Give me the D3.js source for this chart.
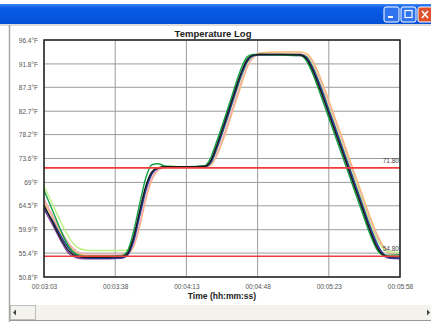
<!DOCTYPE html>
<html>
<head>
<meta charset="utf-8">
<script src="https://cdn.jsdelivr.net/npm/d3@7"></script>
<style>
  html, body { margin: 0; padding: 0; background: #fff; }
  svg { display: block; font-family: "Liberation Sans", Arial, sans-serif; }
</style>
</head>
<body>
<svg id="chart" width="431" height="322"></svg>
<script>
// seconds after 00:03:03 at which the probes were sampled
const sampleSecs = [0, 4, 8, 12, 16, 20, 26, 38, 41, 44, 47, 50, 53, 56, 60, 70, 79, 82, 85, 89,
  93, 97, 100, 103, 106, 116, 126, 129, 132, 136, 140, 144, 148, 152, 156, 160, 164, 167, 170, 175];

// probe readings (°F), one array per probe
const probeOrange = [65.2, 62.4, 59.5, 57.0, 55.5, 55.0, 54.9, 54.9, 55.2, 56.6, 60.4, 65.6, 69.4, 71.3, 71.9, 72.0, 72.0, 72.3, 74.2, 78.2,
  83.0, 87.8, 91.2, 93.2, 93.9, 94.1, 94.1, 93.8, 92.5, 89.0, 84.8, 80.4, 76.0, 71.5, 67.1, 62.7, 58.8, 56.6, 55.4, 55.0];
const probePink = [65.8, 62.8, 59.9, 57.4, 55.8, 55.3, 55.2, 55.2, 55.4, 56.9, 61.0, 66.2, 69.8, 71.4, 71.9, 72.0, 72.0, 72.4, 74.6, 78.8,
  83.6, 88.4, 91.5, 93.1, 93.6, 93.7, 93.7, 93.4, 92.0, 88.4, 84.1, 79.7, 75.3, 70.8, 66.4, 62.0, 58.3, 56.3, 55.4, 55.1];
const probeLime = [68.3, 65.0, 61.6, 58.6, 56.6, 56.0, 55.9, 55.9, 56.0, 58.0, 62.6, 67.6, 70.9, 71.9, 72.1, 72.0, 72.0, 72.6, 75.3, 79.8,
  84.6, 89.2, 92.0, 93.3, 93.6, 93.6, 93.6, 93.3, 91.6, 87.8, 83.5, 79.1, 74.7, 70.3, 65.9, 61.5, 57.8, 56.2, 55.6, 55.5];
const probePurple = [63.8, 61.0, 58.0, 55.4, 54.5, 54.3, 54.3, 54.4, 55.0, 58.0, 63.0, 67.9, 70.8, 71.7, 72.0, 72.0, 72.0, 73.0, 75.9, 80.5,
  85.3, 89.9, 92.5, 93.4, 93.5, 93.5, 93.4, 92.9, 90.9, 87.0, 82.6, 78.2, 73.8, 69.3, 64.9, 60.4, 56.6, 54.9, 54.4, 54.3];
const probeNavy = [64.0, 61.8, 58.9, 56.4, 55.0, 54.5, 54.4, 54.5, 55.0, 57.6, 62.5, 67.4, 70.6, 71.7, 72.0, 72.0, 72.0, 72.8, 75.6, 80.1,
  84.9, 89.6, 92.3, 93.4, 93.6, 93.6, 93.6, 93.1, 91.2, 87.4, 83.0, 78.6, 74.2, 69.7, 65.3, 60.8, 57.0, 55.2, 54.5, 54.4];
const probeGreen = [67.5, 63.8, 60.0, 56.8, 55.2, 54.8, 54.8, 54.9, 55.8, 59.5, 64.8, 69.8, 72.4, 72.6, 72.1, 72.0, 72.2, 73.8, 77.0, 81.6,
  86.4, 91.0, 93.2, 93.6, 93.6, 93.5, 93.4, 92.4, 90.0, 85.8, 81.4, 77.0, 72.6, 68.1, 63.7, 59.3, 55.9, 55.0, 55.0, 55.1];
const probeBlack = [64.6, 61.5, 58.4, 55.9, 54.8, 54.6, 54.6, 54.7, 55.3, 58.4, 63.4, 68.2, 71.0, 71.8, 72.0, 72.0, 72.1, 73.2, 76.2, 80.8,
  85.6, 90.2, 92.7, 93.5, 93.6, 93.6, 93.5, 92.8, 90.6, 86.6, 82.2, 77.8, 73.4, 68.9, 64.5, 60.0, 56.3, 55.0, 54.7, 54.7];

const probes = [
  { color: '#f6bb72', values: probeOrange },
  { color: '#f5a9bb', values: probePink },
  { color: '#bdf27f', values: probeLime },
  { color: '#7b3d9e', values: probePurple },
  { color: '#213f9f', values: probeNavy },
  { color: '#12a445', values: probeGreen },
  { color: '#1b1b1b', values: probeBlack }
];

// alarm limits
const limitValues = [71.8, 54.8];
const limitLabels = ['71.80', '54.80'];

// axis ticks
const tempTicks = [50.8, 55.4, 59.9, 64.5, 69, 73.6, 78.2, 82.7, 87.3, 91.8, 96.4];
const timeTickSecs = [0, 35, 70, 105, 140, 175];
const timeTickLabels = ['00:03:03', '00:03:38', '00:04:13', '00:04:48', '00:05:23', '00:05:58'];

const svg = d3.select('#chart');

// ---- window frame ----
const defs = svg.append('defs');
const barGrad = defs.append('linearGradient').attr('id', 'bar').attr('x1', 0).attr('y1', 0).attr('x2', 0).attr('y2', 1);
barGrad.append('stop').attr('offset', '0%').attr('stop-color', '#3d86f5');
barGrad.append('stop').attr('offset', '20%').attr('stop-color', '#0a5ce6');
barGrad.append('stop').attr('offset', '100%').attr('stop-color', '#0250d8');

svg.append('rect').attr('x', 0).attr('y', 4).attr('width', 431).attr('height', 20).attr('fill', 'url(#bar)');

// title bar buttons
const btns = [
  { x: 384, fill: '#2f73ef' },
  { x: 401, fill: '#2f73ef' },
  { x: 418, fill: '#e0502a' }
];
svg.selectAll('rect.btn').data(btns).enter().append('rect')
  .attr('class', 'btn')
  .attr('x', d => d.x).attr('y', 7).attr('width', 15).attr('height', 15).attr('rx', 2)
  .attr('fill', d => d.fill).attr('stroke', '#fff').attr('stroke-width', 1);
svg.append('rect').attr('x', 388).attr('y', 16).attr('width', 5).attr('height', 2).attr('fill', '#fff');
svg.append('rect').attr('x', 405).attr('y', 10.5).attr('width', 7).attr('height', 7)
  .attr('fill', 'none').attr('stroke', '#fff').attr('stroke-width', 1.2);
svg.append('path').attr('d', 'M422,11L428,18M428,11L422,18').attr('stroke', '#fff').attr('stroke-width', 1.6);

// client area borders
svg.append('line').attr('x1', 0).attr('x2', 431).attr('y1', 25).attr('y2', 25).attr('stroke', '#b8b8b8');
svg.append('line').attr('x1', 9.5).attr('x2', 9.5).attr('y1', 25).attr('y2', 322).attr('stroke', '#a8a8a8').attr('stroke-width', 1.5);

// horizontal scrollbar
svg.append('rect').attr('x', 10).attr('y', 305).attr('width', 421).attr('height', 15).attr('fill', '#f3f2ec');
svg.append('rect').attr('x', 10.5).attr('y', 305.5).attr('width', 25).attr('height', 14)
  .attr('fill', '#f3f2ec').attr('stroke', '#bdbdbd');
svg.append('path').attr('d', 'M13,312.5L16,309.5L16,315.5Z').attr('fill', '#444');
svg.append('path').attr('d', 'M430,312.5L427,309.5L427,315.5Z').attr('fill', '#444');
svg.append('line').attr('x1', 10).attr('x2', 431).attr('y1', 320.5).attr('y2', 320.5).attr('stroke', '#9a9a9a');

// ---- chart ----
const plot = { left: 44, right: 400, top: 40, bottom: 277 };

const x = d3.scaleLinear().domain([0, 175]).range([plot.left, plot.right]);
const y = d3.scaleLinear().domain([50.8, 96.4]).range([plot.bottom, plot.top]);

// horizontal grid
svg.append('g')
  .selectAll('line')
  .data(tempTicks)
  .enter()
  .append('line')
  .attr('x1', plot.left).attr('x2', plot.right)
  .attr('y1', d => y(d)).attr('y2', d => y(d))
  .attr('stroke', '#9c9c9c').attr('stroke-width', 1);

// vertical grid
svg.append('g')
  .selectAll('line')
  .data(timeTickSecs)
  .enter()
  .append('line')
  .attr('x1', d => x(d)).attr('x2', d => x(d))
  .attr('y1', plot.top).attr('y2', plot.bottom)
  .attr('stroke', '#9c9c9c').attr('stroke-width', 1);

// y axis labels
const yAxis = d3.axisLeft(y)
  .tickValues(tempTicks)
  .tickSize(0)
  .tickPadding(6)
  .tickFormat(d => `${d}°F`);
svg.append('g')
  .attr('transform', `translate(${plot.left},0)`)
  .call(yAxis)
  .call(g => g.select('.domain').remove())
  .call(g => g.selectAll('text')
    .attr('font-size', 6.5)
    .attr('font-family', '"Liberation Sans", Arial, sans-serif')
    .attr('fill', '#555'));

// x axis labels
const xAxis = d3.axisBottom(x)
  .tickValues(timeTickSecs)
  .tickSize(0)
  .tickPadding(7)
  .tickFormat((d, i) => timeTickLabels[i]);
svg.append('g')
  .attr('transform', `translate(0,${plot.bottom})`)
  .call(xAxis)
  .call(g => g.select('.domain').remove())
  .call(g => g.selectAll('text')
    .attr('font-size', 6.5)
    .attr('font-family', '"Liberation Sans", Arial, sans-serif')
    .attr('fill', '#555'));

// probe traces
const line = d3.line()
  .x((d, i) => x(sampleSecs[i]))
  .y(d => y(d))
  .curve(d3.curveMonotoneX);

svg.append('g')
  .selectAll('path')
  .data(probes)
  .enter()
  .append('path')
  .attr('d', d => line(d.values))
  .attr('fill', 'none')
  .attr('stroke', d => d.color)
  .attr('stroke-width', 1.4)
  .attr('stroke-linejoin', 'round');

// alarm limit lines
const limits = svg.append('g');
limits.selectAll('line')
  .data(limitValues)
  .enter()
  .append('line')
  .attr('x1', plot.left).attr('x2', plot.right)
  .attr('y1', d => y(d)).attr('y2', d => y(d))
  .attr('stroke', '#f03a3a').attr('stroke-width', 1.6);
limits.selectAll('text')
  .data(limitValues)
  .enter()
  .append('text')
  .attr('x', plot.right - 1)
  .attr('y', d => y(d) - 5)
  .attr('text-anchor', 'end')
  .attr('font-size', 6.5)
  .attr('fill', '#444')
  .text((d, i) => limitLabels[i]);

// plot frame
svg.append('rect')
  .attr('x', plot.left).attr('y', plot.top)
  .attr('width', plot.right - plot.left).attr('height', plot.bottom - plot.top)
  .attr('fill', 'none').attr('stroke', '#222').attr('stroke-width', 1.5);

// titles
svg.append('text')
  .attr('x', 213).attr('y', 37)
  .attr('text-anchor', 'middle')
  .attr('font-size', 9.5).attr('font-weight', 'bold').attr('fill', '#222')
  .text('Temperature Log');

svg.append('text')
  .attr('x', 222).attr('y', 299)
  .attr('text-anchor', 'middle')
  .attr('font-size', 8.5).attr('font-weight', 'bold').attr('fill', '#222')
  .text('Time (hh:mm:ss)');
</script>
</body>
</html>
